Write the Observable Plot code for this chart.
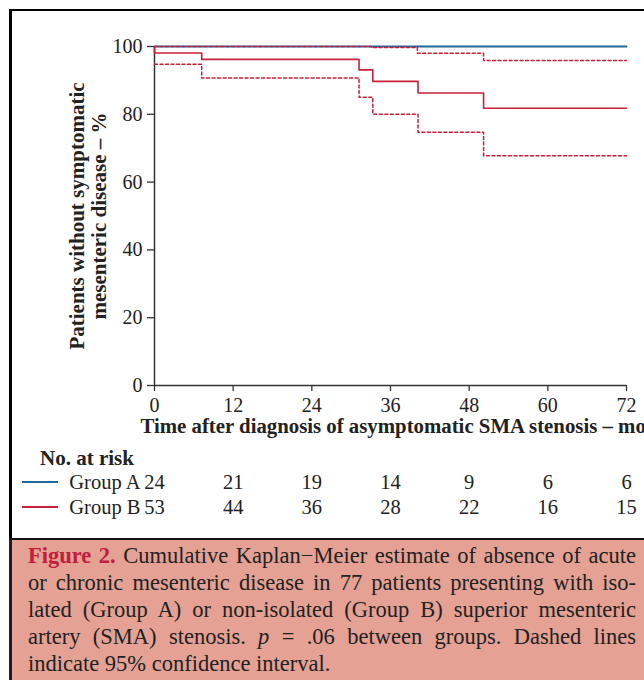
<!DOCTYPE html>
<html><head><meta charset="utf-8">
<script src="https://cdn.jsdelivr.net/npm/d3@7"></script>
<script src="https://cdn.jsdelivr.net/npm/@observablehq/plot@0.6"></script>
<style>
html,body{margin:0;padding:0;background:#fff;}
body{width:644px;height:680px;overflow:hidden;position:relative;font-family:"Liberation Serif",serif;color:#222;}
#frame{position:absolute;left:9px;top:9px;width:700px;height:700px;border-left:3px solid #000;border-top:2px solid #000;}
#chart{position:absolute;left:0;top:0;}
#risk{position:absolute;left:0;top:440px;}
#riskhead{position:absolute;left:40px;top:446px;font-weight:bold;font-size:21px;line-height:24px;}
.sw{position:absolute;left:22px;width:36px;height:1.6px;}
#caption{position:absolute;left:9px;top:538px;width:700px;height:160px;background:#e4a194;border-top:2px solid #111;border-left:3px solid #2a1a1a;}
#captext{position:absolute;left:28px;top:542px;width:608px;font-size:22.5px;line-height:27px;color:#222;}
#captext div{text-align:justify;text-align-last:justify;white-space:nowrap;}
#captext div.last{text-align-last:left;}
#captext b{color:#c0203a;}
</style>
</head><body>
<div id="frame"></div>
<div id="chart"></div>
<div id="riskhead">No. at risk</div>
<div class="sw" id="swA" style="top:481px;background:#25679a"></div>
<div class="sw" id="swB" style="top:506px;background:#c8203a"></div>
<div id="risk"></div>
<div id="caption"></div>
<div id="captext">
<div><b>Figure 2.</b> Cumulative Kaplan−Meier estimate of absence of acute</div>
<div>or chronic mesenteric disease in 77 patients presenting with iso-</div>
<div>lated (Group A) or non-isolated (Group B) superior mesenteric</div>
<div>artery (SMA) stenosis. <i>p</i> = .06 between groups. Dashed lines</div>
<div class="last">indicate 95% confidence interval.</div>
</div>
<script>
// ---- data ----
const xTicks = [0, 12, 24, 36, 48, 60, 72];
const yTicks = [0, 20, 40, 60, 80, 100];
const groupATime = [0, 72];
const groupASurv = [100, 100];
const groupBTime = [0, 0, 7.2, 31.2, 33.3, 40.2, 50.2, 72];
const groupBSurv = [100, 98.1, 96.2, 93.1, 89.7, 86.3, 81.8, 81.8];
const upperCITime = [0, 33.1, 40.1, 50.2, 72];
const upperCISurv = [100, 99.7, 98.0, 95.9, 95.9];
const lowerCITime = [0, 7.2, 31.2, 33.3, 40.2, 50.2, 72];
const lowerCISurv = [94.8, 90.7, 85.0, 80.0, 74.7, 67.8, 67.8];
const groups = ["Group A", "Group B"];
const riskMonths = [0, 12, 24, 36, 48, 60, 72];
const riskA = [24, 21, 19, 14, 9, 6, 6];
const riskB = [53, 44, 36, 28, 22, 16, 15];
const xLabel = "Time after diagnosis of asymptomatic SMA stenosis – mo";
const yLabel = "Patients without symptomatic\nmesenteric disease – %";

const blue = "#25679a", red = "#c8203a", axisCol = "#333";
const zip = (t, s) => t.map((x, i) => ({t: x, s: s[i]}));
const font = '"Liberation Serif", serif';

const chart = Plot.plot({
  width: 644, height: 440,
  marginLeft: 154, marginRight: 18, marginTop: 46, marginBottom: 55,
  style: {fontFamily: font, fontSize: "20px", color: "#222", background: "transparent", overflow: "visible"},
  x: {domain: [0, 72], label: null},
  y: {domain: [0, 100], label: null},
  marks: [
    Plot.axisX({ticks: xTicks, tickSize: 6, tickPadding: 6, label: null, stroke: axisCol, strokeWidth: 1.3}),
    Plot.axisY({ticks: yTicks, tickSize: 7, tickPadding: 5, label: null, stroke: axisCol, strokeWidth: 1.3}),
    Plot.ruleX([0], {stroke: axisCol, strokeWidth: 1.5}),
    Plot.ruleY([0], {stroke: axisCol, strokeWidth: 1.5}),
    Plot.line(zip(groupATime, groupASurv), {x: "t", y: "s", stroke: blue, strokeWidth: 1.8, curve: "step-after"}),
    Plot.line(zip(groupBTime, groupBSurv), {x: "t", y: "s", stroke: red, strokeWidth: 1.6, curve: "step-after"}),
    Plot.line(zip(upperCITime, upperCISurv), {x: "t", y: "s", stroke: red, strokeWidth: 1.5, strokeDasharray: "3,2.5", curve: "step-after"}),
    Plot.line(zip(lowerCITime, lowerCISurv), {x: "t", y: "s", stroke: red, strokeWidth: 1.5, strokeDasharray: "3,2.5", curve: "step-after"}),
    Plot.text([xLabel], {frameAnchor: "bottom-left", textAnchor: "start", dx: -14, dy: 41, lineAnchor: "middle", fontWeight: "bold", fontSize: 20.8}),
    Plot.text([yLabel], {frameAnchor: "left", textAnchor: "middle", rotate: -90, dx: -67, lineAnchor: "middle", fontWeight: "bold", fontSize: 21, lineHeight: 1.05})
  ]
});
document.getElementById("chart").append(chart);

const riskData = [];
riskMonths.forEach((m, i) => {
  riskData.push({g: "Group A", t: m, n: riskA[i]});
  riskData.push({g: "Group B", t: m, n: riskB[i]});
});
const risk = Plot.plot({
  width: 644, height: 90,
  marginLeft: 154, marginRight: 18, marginTop: 0, marginBottom: 0,
  style: {fontFamily: font, fontSize: "20.5px", color: "#222", background: "transparent", overflow: "visible"},
  x: {domain: [0, 72], axis: null},
  y: {type: "point", domain: groups, range: [42, 67], padding: 0, axis: null},
  marks: [
    Plot.text(riskData, {x: "t", y: "g", text: d => String(d.n), lineAnchor: "middle", fill: "#222"}),
    Plot.text(groups, {x: () => 0, y: d => d, text: d => d, textAnchor: "end", dx: -14, lineAnchor: "middle", fill: "#222"})
  ]
});
document.getElementById("risk").append(risk);
</script>
</body></html>
